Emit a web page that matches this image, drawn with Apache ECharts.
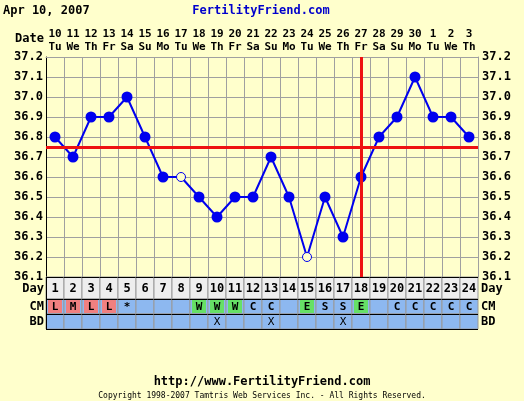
<!DOCTYPE html>
<html><head><meta charset="utf-8">
<script src="https://cdn.jsdelivr.net/npm/echarts@6/dist/echarts.min.js"></script>
<style>html,body{margin:0;padding:0;background:#ffffcc}#c{width:524px;height:401px}</style>
</head><body><div id="c"></div>
<script>
var dates = ['10','11','12','13','14','15','16','17','18','19','20','21','22','23','24','25','26','27','28','29','30','1','2','3'];
var weekdays = ['Tu','We','Th','Fr','Sa','Su','Mo','Tu','We','Th','Fr','Sa','Su','Mo','Tu','We','Th','Fr','Sa','Su','Mo','Tu','We','Th'];
var cycleDays = [1,2,3,4,5,6,7,8,9,10,11,12,13,14,15,16,17,18,19,20,21,22,23,24];
var temps = [36.8,36.7,36.9,36.9,37.0,36.8,36.6,36.6,36.5,36.4,36.5,36.5,36.7,36.5,36.2,36.5,36.3,36.6,36.8,36.9,37.1,36.9,36.9,36.8];
var openDays = [8,15];
var cm = ['L','M','L','L','*','','','','W','W','W','C','C','','E','S','S','E','','C','C','C','C','C'];
var bd = ['','','','','','','','','','X','','','X','','','','X','','','','','','',''];
var coverline = 36.75;
var ovulationDay = 18;
var yMin = 36.1, yMax = 37.2, yStep = 0.1;

var MONO = '"DejaVu Sans Mono", monospace';
var cmFill = {L:'#f08080', M:'#f08080', W:'#66e066', E:'#66e066'};
var rows = [[0,22],[22,37],[37,52]];

var chart = echarts.init(document.getElementById('c'));

var cellData = [];
for (var i = 0; i < cycleDays.length; i++) {
  cellData.push([i, 0, String(cycleDays[i])]);
  cellData.push([i, 1, cm[i]]);
  cellData.push([i, 2, bd[i]]);
}

function renderCell(params, api) {
  var idx = api.value(0), row = api.value(1);
  var txt = cellData[params.dataIndex][2];
  var c = api.coord([idx, rows[row][0]]);
  var c2 = api.coord([idx, rows[row][1]]);
  var w = api.size([1, 0])[0];
  var x0 = Math.round(c[0] - w / 2), y0 = Math.round(c[1]), y1 = Math.round(c2[1]);
  var ch = [];
  ch.push({type:'rect', shape:{x:x0, y:y0, width:w, height:y1 - y0},
    style:{fill: row === 0 ? '#eeeeee' : '#8db8f0', stroke:'#999999', lineWidth:1}});
  if (row === 1 && cmFill[txt]) {
    ch.push({type:'rect', shape:{x:x0 + 2, y:y0 + 1, width:w - 4, height:y1 - y0 - 2},
      style:{fill: cmFill[txt]}});
  }
  if (txt) {
    ch.push({type:'text', style:{text:txt, x:c[0], y:(y0 + y1) / 2 + 1, align:'center', verticalAlign:'middle',
      font:(row === 2 ? 'normal ' : 'bold ') + (row === 0 ? '12px ' : '11px ') + MONO, fill:'#000'}});
  }
  ch.push({type:'line', shape:{x1:x0, y1:y0 + 0.5, x2:x0 + w, y2:y0 + 0.5}, style:{stroke:'#000', lineWidth:1}});
  if (row === 2) ch.push({type:'line', shape:{x1:x0, y1:y1 + 0.5, x2:x0 + w, y2:y1 + 0.5}, style:{stroke:'#000', lineWidth:1}});
  return {type:'group', children:ch};
}

var tempData = temps.map(function (t, i) {
  if (openDays.indexOf(i + 1) >= 0) {
    return {value:t, symbolSize:9, itemStyle:{color:'#ffffcc', borderColor:'#0000ee', borderWidth:1}};
  }
  return t;
});

var option = {
  backgroundColor:'#ffffcc',
  animation:false,
  grid:[
    {left:46, top:57, width:432, height:220, show:true, backgroundColor:'#ffffcc', borderWidth:0},
    {left:46, top:277, width:432, height:52, show:false}
  ],
  xAxis:[
    {type:'category', data:dates, position:'top', boundaryGap:true, gridIndex:0,
      axisLine:{show:true, lineStyle:{color:'#a0a0a0'}}, axisTick:{show:false},
      axisLabel:{interval:0, margin:3, color:'#000', fontFamily:MONO, fontWeight:'bold', fontSize:11, lineHeight:13,
        formatter:function (v, i) { return v + '\n' + weekdays[i]; }},
      splitLine:{show:true, interval:0, lineStyle:{color:'#a0a0a0', width:1}}},
    {type:'category', data:cycleDays, gridIndex:1, boundaryGap:true, show:false}
  ],
  yAxis:[
    {type:'value', min:yMin, max:yMax, interval:yStep, gridIndex:0, position:'left',
      axisLine:{show:true, lineStyle:{color:'#000'}}, axisTick:{show:false},
      axisLabel:{color:'#000', fontFamily:MONO, fontWeight:'bold', fontSize:12, margin:3,
        formatter:function (v) { return v.toFixed(1); }},
      splitLine:{show:true, lineStyle:{color:'#a0a0a0', width:1}}},
    {type:'value', min:yMin, max:yMax, interval:yStep, gridIndex:0, position:'right',
      axisLine:{show:true, lineStyle:{color:'#a0a0a0'}}, axisTick:{show:false},
      axisLabel:{color:'#000', fontFamily:MONO, fontWeight:'bold', fontSize:12, margin:4,
        formatter:function (v) { return v.toFixed(1); }},
      splitLine:{show:false}},
    {type:'value', min:0, max:52, inverse:true, gridIndex:1, show:false}
  ],
  series:[
    {type:'line', xAxisIndex:0, yAxisIndex:0, data:[], z:1, silent:true,
      markLine:{silent:true, symbol:['none','none'], label:{show:false},
        lineStyle:{color:'#ee1111', width:3, type:'solid'},
        data:[{yAxis:coverline}, {xAxis:dates[ovulationDay - 1]}]}},
    {type:'line', xAxisIndex:0, yAxisIndex:0, data:tempData, z:3,
      symbol:'circle', symbolSize:11, showAllSymbol:true,
      lineStyle:{color:'#0000ee', width:2}, itemStyle:{color:'#0000ee'}},
    {type:'custom', xAxisIndex:1, yAxisIndex:2, data:cellData.map(function (d) { return [d[0], d[1]]; }),
      renderItem:renderCell, z:2}
  ],
  graphic:[
    {type:'text', left:3, top:5, style:{text:'Apr 10, 2007', font:'bold 12px ' + MONO, fill:'#000'}},
    {type:'text', x:261, y:11, style:{text:'FertilityFriend.com', font:'bold 12px ' + MONO, fill:'#0000cc', align:'center', verticalAlign:'middle'}},
    {type:'text', x:44, y:39, style:{text:'Date', font:'bold 12px ' + MONO, fill:'#000', align:'right', verticalAlign:'middle'}},
    {type:'text', x:44, y:289, style:{text:'Day', font:'bold 12px ' + MONO, fill:'#000', align:'right', verticalAlign:'middle'}},
    {type:'text', x:44, y:307, style:{text:'CM', font:'bold 12px ' + MONO, fill:'#000', align:'right', verticalAlign:'middle'}},
    {type:'text', x:44, y:322, style:{text:'BD', font:'bold 12px ' + MONO, fill:'#000', align:'right', verticalAlign:'middle'}},
    {type:'text', x:481, y:289, style:{text:'Day', font:'bold 12px ' + MONO, fill:'#000', align:'left', verticalAlign:'middle'}},
    {type:'text', x:481, y:307, style:{text:'CM', font:'bold 12px ' + MONO, fill:'#000', align:'left', verticalAlign:'middle'}},
    {type:'text', x:481, y:322, style:{text:'BD', font:'bold 12px ' + MONO, fill:'#000', align:'left', verticalAlign:'middle'}},
    {type:'text', x:262, y:382, style:{text:'http://www.FertilityFriend.com', font:'bold 12px ' + MONO, fill:'#000', align:'center', verticalAlign:'middle'}},
    {type:'text', x:262, y:396, style:{text:'Copyright 1998-2007 Tamtris Web Services Inc. - All Rights Reserved.', font:'8px ' + MONO, fill:'#000', align:'center', verticalAlign:'middle'}},
    {type:'line', shape:{x1:46.5, y1:277, x2:46.5, y2:330}, style:{stroke:'#000', lineWidth:1}, z:10}
  ]
};
chart.setOption(option);
</script>
</body></html>
